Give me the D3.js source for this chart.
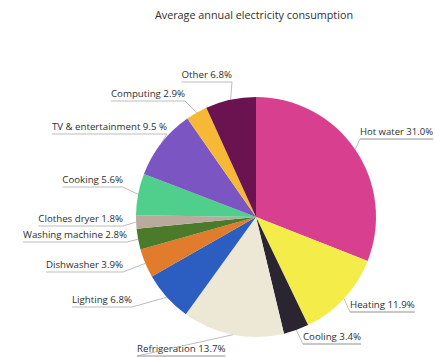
<!DOCTYPE html>
<html>
<head>
<meta charset="utf-8">
<script src="https://cdn.jsdelivr.net/npm/d3@7"></script>
<style>
  body { margin: 0; background: #fff; }
  text { font-family: "Open Sans", sans-serif; fill: #2e2e2e; }
</style>
</head>
<body>
<div id="chart"></div>
<script>
// data, clockwise from 12 o'clock
var categories = ["Hot water", "Heating", "Cooling", "Refrigeration", "Lighting", "Dishwasher",
                  "Washing machine", "Clothes dryer", "Cooking", "TV & entertainment", "Computing", "Other"];
var values = [31.0, 11.9, 3.4, 13.7, 6.8, 3.9, 2.8, 1.8, 5.6, 9.5, 2.9, 6.8];
var valueLabels = ["31.0%", "11.9%", "3.4%", "13.7%", "6.8%", "3.9%", "2.8%", "1.8%", "5.6%", "9.5 %", "2.9%", "6.8%"];
var colors = ["#d83f8f", "#f4ec48", "#2a2530", "#ede7d6", "#2c5ec2", "#e07c2b",
              "#4b7a2a", "#b9aa9d", "#4fcf8b", "#7b56c2", "#f6b836", "#6b1250"];

// label layout: text anchor point (x, baseline y) and side
var labelPos = [
  [360, 135, "start"], [350, 308, "start"], [303, 340, "start"], [137, 352, "start"],
  [132, 303, "end"], [123, 268, "end"], [127, 238, "end"], [123, 222, "end"],
  [123, 183, "end"], [167, 130, "end"], [185, 97, "end"], [232, 78, "end"]
];

var width = 435, height = 357;
var cx = 256, cy = 217, radius = 120;

var svg = d3.select("#chart").append("svg")
    .attr("width", width)
    .attr("height", height);

svg.append("text")
    .attr("x", 254)
    .attr("y", 19)
    .attr("text-anchor", "middle")
    .style("font-size", "10.8px")
    .text("Average annual electricity consumption");

var pie = d3.pie().sort(null).value(function(d) { return d; });
var arc = d3.arc().innerRadius(0).outerRadius(radius);
var edge = d3.arc().innerRadius(radius).outerRadius(radius);

var arcs = pie(values);

var g = svg.append("g")
    .attr("transform", "translate(" + cx + "," + cy + ")");

g.selectAll("path")
  .data(arcs)
  .enter()
  .append("path")
    .attr("d", arc)
    .style("fill", function(d, i) { return colors[i]; });

// labels with underline + leader
var labels = svg.append("g");

arcs.forEach(function(d, i) {
  var p = labelPos[i];
  var t = labels.append("text")
      .attr("x", p[0])
      .attr("y", p[1])
      .attr("text-anchor", p[2])
      .style("font-size", "9.7px")
      .text(categories[i] + " " + valueLabels[i]);
  var w = t.node().getComputedTextLength();
  // keep the right-hand label inside the window
  if (p[2] == "start" && p[0] + w > width - 2) {
    t.attr("textLength", width - 2 - p[0]).attr("lengthAdjust", "spacingAndGlyphs");
    w = width - 2 - p[0];
  }
  var x0 = p[2] == "end" ? p[0] - w : p[0];
  var x1 = p[2] == "end" ? p[0] : p[0] + w;
  var uy = p[1] + 4;
  var c = edge.centroid(d);
  var ex = cx + c[0], ey = cy + c[1];
  var jx = p[2] == "end" ? x1 : x0;
  labels.append("path")
      .attr("d", "M" + x0 + "," + uy + "L" + x1 + "," + uy + "L" + jx + "," + uy + "L" + ex + "," + ey)
      .attr("fill", "none")
      .attr("stroke", "#a0a0a0")
      .attr("stroke-width", 0.7);
});
</script>
</body>
</html>
